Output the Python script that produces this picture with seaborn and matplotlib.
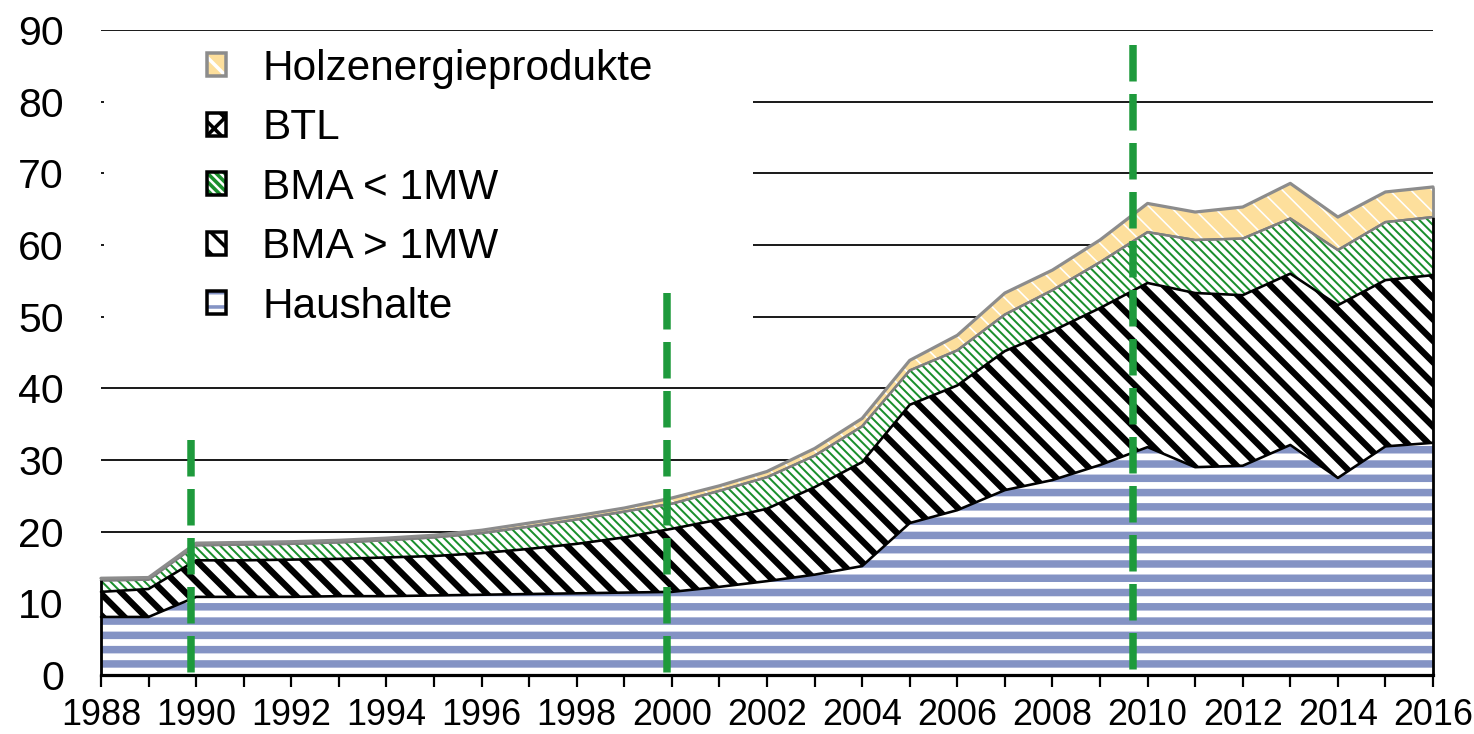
import numpy as np
import pandas as pd
import matplotlib
matplotlib.use("Agg")
import matplotlib.pyplot as plt
import matplotlib.patches as mpatches
from matplotlib.legend_handler import HandlerTuple
import seaborn as sns

# ---------------- data ----------------
years = list(range(1988, 2017))
haushalte = [8.1, 8.1, 10.9, 10.9, 10.9, 11.0, 11.0, 11.1, 11.2, 11.3, 11.4, 11.5, 11.6, 12.3,
             13.1, 14.0, 15.2, 21.2, 23.0, 25.8, 27.2, 29.3, 31.8, 29.0, 29.2, 32.1, 27.5, 31.9, 32.4]
bma_gt_1mw = [3.5, 3.9, 5.1, 5.1, 5.2, 5.2, 5.4, 5.5, 5.8, 6.3, 6.9, 7.7, 8.8, 9.4,
              10.1, 12.2, 14.5, 16.5, 17.4, 19.4, 20.8, 21.9, 22.9, 24.3, 23.8, 23.9, 24.1, 23.2, 23.4]
bma_lt_1mw = [1.6, 1.3, 2.1, 2.2, 2.2, 2.3, 2.4, 2.6, 2.8, 3.1, 3.4, 3.6, 3.5, 4.0,
              4.4, 4.4, 5.0, 4.8, 4.9, 5.1, 5.7, 6.4, 7.1, 7.4, 7.9, 7.7, 7.7, 8.1, 8.1]
btl = [0.0, 0.0, 0.0, 0.0, 0.0, 0.0, 0.0, 0.0, 0.0, 0.0, 0.0, 0.0, 0.0, 0.0,
       0.0, 0.0, 0.0, 0.0, 0.0, 0.0, 0.0, 0.0, 0.0, 0.0, 0.0, 0.0, 0.0, 0.0, 0.0]
holz = [0.3, 0.3, 0.3, 0.3, 0.3, 0.3, 0.3, 0.3, 0.4, 0.5, 0.5, 0.5, 0.8, 0.7,
        0.8, 1.0, 1.1, 1.4, 2.1, 3.0, 2.8, 3.1, 4.0, 3.9, 4.4, 4.9, 4.6, 4.2, 4.2]

labels = ["Haushalte", "BMA > 1MW", "BMA < 1MW", "BTL", "Holzenergieprodukte"]
divider_x = [1989.9, 1999.9, 2009.7]
divider_top = [32.8, 53.3, 87.9]
yticks = [0, 10, 20, 30, 40, 50, 60, 70, 80, 90]
xtick_labels = [str(y) for y in range(1988, 2017, 2)]

# ---------------- styling ----------------
W, H = 1474, 734
DPI = 257
PX = 72.0 / DPI  # points per pixel

sns.set_theme(style="white")
plt.rcParams["font.family"] = ["Liberation Sans", "DejaVu Sans"]

fig = plt.figure(figsize=(W / DPI, H / DPI), dpi=DPI)
ax = fig.add_axes([101 / W, 1 - 675 / H, 1332 / W, 645 / H])

df = pd.DataFrame({"year": years, "Haushalte": haushalte, "BMA > 1MW": bma_gt_1mw,
                   "BMA < 1MW": bma_lt_1mw, "BTL": btl, "Holzenergieprodukte": holz})
stack = df[labels].cumsum(axis=1)

styles = {
    "Haushalte": dict(face="white", hcol="#8493c4", hatch="---", hlw=7.5),
    "BMA > 1MW": dict(face="white", hcol="black", hatch="\\" * 4, hlw=6.3),
    "BMA < 1MW": dict(face="white", hcol="#1b8f2d", hatch="\\" * 10, hlw=2.0),
    "BTL": dict(face="white", hcol="black", hatch="xxxx", hlw=2.0),
    "Holzenergieprodukte": dict(face="#fddf9c", hcol="white", hatch="\\" * 4, hlw=1.6),
}

prev = np.zeros(len(years))
for i, lab in enumerate(labels):
    top = stack[lab].to_numpy()
    st = styles[lab]
    with plt.rc_context({"hatch.linewidth": st["hlw"] * PX}):
        coll = ax.fill_between(df["year"], prev, top, facecolor=st["face"],
                               edgecolor=st["hcol"], hatch=st["hatch"], linewidth=0,
                               zorder=2 + i * 0.01)
    if hasattr(coll, "set_hatch_linewidth"):
        coll.set_hatch_linewidth(st["hlw"] * PX)
    prev = top

# outlines
edge_cols = {"Haushalte": "black", "BMA > 1MW": "black", "BMA < 1MW": "#7f7f7f",
             "BTL": "#7f7f7f", "Holzenergieprodukte": "#8c8c8c"}
edge_w = {"Haushalte": 2.6, "BMA > 1MW": 2.6, "BMA < 1MW": 2.4, "BTL": 2.4,
          "Holzenergieprodukte": 3.2}
for lab in labels:
    sns.lineplot(x=df["year"], y=stack[lab], ax=ax, color=edge_cols[lab],
                 linewidth=edge_w[lab] * PX, estimator=None, zorder=3, clip_on=False)
side_y = stack["BMA < 1MW"].to_numpy()
tot_y = stack["Holzenergieprodukte"].to_numpy()
ax.vlines([years[0], years[-1]], 0, [side_y[0], side_y[-1]], colors="black",
          linewidth=2.8 * PX, zorder=3.1, clip_on=False)
ax.vlines([years[0], years[-1]], [side_y[0], side_y[-1]], [tot_y[0], tot_y[-1]],
          colors="#8c8c8c", linewidth=2.8 * PX, zorder=3.1, clip_on=False)

# green dashed dividers
lw_d = 7.5
for x, t in zip(divider_x, divider_top):
    ax.plot([x, x], [t, 0], color="#1e9a3c", linewidth=lw_d * PX,
            dashes=(36.5 / lw_d, 12.5 / lw_d), dash_capstyle="butt", zorder=5)

# axes
ax.set_xlim(1988, 2016)
ax.set_ylim(0, 90)
ax.set_yticks(yticks)
ax.set_xticks(list(range(1988, 2017, 2)))
ax.set_xticklabels(xtick_labels)
ax.set_xticks(years, minor=True)
ax.yaxis.grid(True, color="#1e1e1e", linewidth=2.0 * PX, zorder=0.5)
ax.xaxis.grid(False)
ax.set_axisbelow(True)
for s in ["top", "right", "left"]:
    ax.spines[s].set_visible(False)
ax.spines["bottom"].set_color("black")
ax.spines["bottom"].set_linewidth(3.2 * PX)
ax.spines["bottom"].set_zorder(6)
ax.tick_params(axis="y", length=0, labelsize=41 * PX, pad=37 * PX, colors="black")
ax.tick_params(axis="x", which="both", direction="out", length=12 * PX, width=2.2 * PX,
               color="black", bottom=True)
ax.tick_params(axis="x", which="major", labelsize=36 * PX, pad=11 * PX, labelcolor="black")
ax.set_xlabel("")
ax.set_ylabel("")

# white mask behind legend (covers gridlines as in the original)
mask = mpatches.Rectangle(((104 - 101) / 1332, (675 - 345) / 645), (753 - 104) / 1332,
                          (345 - 36) / 645, transform=ax.transAxes, facecolor="white",
                          edgecolor="none", zorder=0.8)
ax.add_patch(mask)

# legend
leg_order = ["Holzenergieprodukte", "BTL", "BMA < 1MW", "BMA > 1MW", "Haushalte"]
handles = []
for lab in leg_order:
    st = styles[lab]
    with plt.rc_context({"hatch.linewidth": st["hlw"] * PX * 0.6}):
        p1 = mpatches.Patch(facecolor=st["face"], edgecolor=st["hcol"], hatch=st["hatch"],
                            linewidth=0)
    p2 = mpatches.Patch(facecolor="none",
                        edgecolor="#8c8c8c" if lab == "Holzenergieprodukte" else "black",
                        linewidth=3.5 * PX)
    handles.append((p1, p2))
fs = 42.3 * PX
leg = fig.legend(handles, leg_order, handler_map={tuple: HandlerTuple(ndivide=1, pad=0)},
                 loc="upper left", bbox_to_anchor=(207 / W, 1 - 49 / H), frameon=False,
                 fontsize=fs, handlelength=0.46, handleheight=0.46, handletextpad=0.85,
                 labelspacing=0.46, borderpad=0, borderaxespad=0)
for t in leg.get_texts():
    t.set_color("black")

fig.savefig("out.png", dpi=DPI)
